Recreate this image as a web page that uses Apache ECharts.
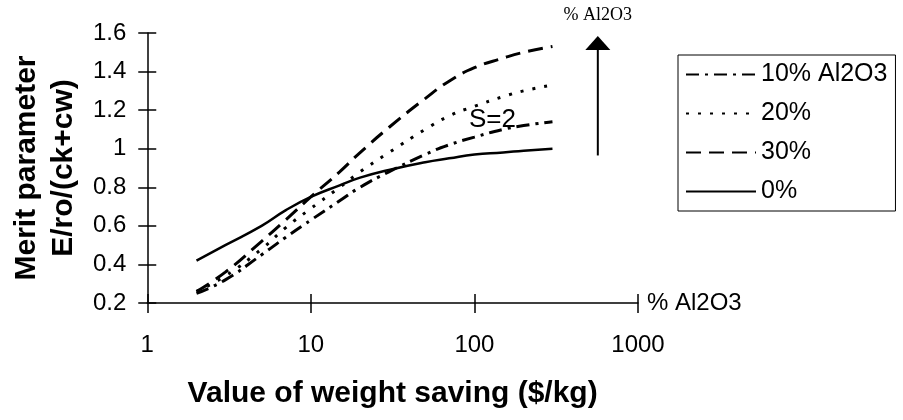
<!DOCTYPE html>
<html><head><meta charset="utf-8">
<script src="https://cdn.jsdelivr.net/npm/echarts@6/dist/echarts.min.js"></script>
<style>html,body{margin:0;padding:0;background:#fff}#c{width:903px;height:420px}</style>
</head><body><div id="c"></div>
<script>
// ---- data ----
const xValues = [2, 3, 5, 7, 10, 15, 20, 30, 50, 70, 100, 150, 200, 300];
const seriesNames = ['10% Al2O3', '20%', '30%', '0%'];
const al10 = [0.25, 0.32, 0.45, 0.54, 0.63, 0.73, 0.80, 0.88, 0.97, 1.02, 1.06, 1.10, 1.12, 1.14];
const al20 = [0.26, 0.34, 0.48, 0.59, 0.69, 0.80, 0.88, 0.98, 1.10, 1.17, 1.22, 1.27, 1.30, 1.33];
const al30 = [0.26, 0.36, 0.52, 0.63, 0.75, 0.88, 0.98, 1.11, 1.26, 1.35, 1.42, 1.47, 1.50, 1.53];
const al0  = [0.42, 0.50, 0.60, 0.68, 0.75, 0.81, 0.85, 0.89, 0.93, 0.95, 0.97, 0.98, 0.99, 1.00];
const xTickLabels = ['1', '10', '100', '1000'];
const yTickLabels = ['0.2', '0.4', '0.6', '0.8', '1', '1.2', '1.4', '1.6'];
const xAxisTitle = 'Value of weight saving ($/kg)';
const yAxisTitle = 'Merit parameter\nE/ro/(ck+cw)';
const xAxisEndName = '% Al2O3';
const arrowLabel = '% Al2O3';
const curveLabel = 'S=2';
const curveLabelAt = [129, 1.15];
const arrowFrom = [568, 0.965];
const arrowTo = [568, 1.585];

const FONT = 'Liberation Sans, Arial, sans-serif';
const chart = echarts.init(document.getElementById('c'), null, {renderer: 'canvas'});

const styles = {
  '10% Al2O3': {type: [13, 6, 3, 6], width: 3},
  '20%': {type: [3, 9], width: 3},
  '30%': {type: [15, 8], width: 3},
  '0%': {type: 'solid', width: 2.5}
};
const valuesByName = {'10% Al2O3': al10, '20%': al20, '30%': al30, '0%': al0};

const series = seriesNames.map(name => ({
  name: name,
  type: 'line',
  xAxisIndex: 0,
  yAxisIndex: 0,
  smooth: true,
  symbol: 'none',
  showSymbol: false,
  animation: false,
  lineStyle: Object.assign({color: '#000'}, styles[name]),
  itemStyle: {color: '#000'},
  data: xValues.map((x, i) => [x, valuesByName[name][i]])
}));

const xBase = {
  type: 'log', logBase: 10, min: 1, max: 1000, gridIndex: 0, position: 'bottom'
};
const yBase = {
  type: 'value', min: 0.2, max: 1.6, interval: 0.2, gridIndex: 0, position: 'left'
};

chart.setOption({
  animation: false,
  backgroundColor: '#fff',
  grid: {left: 139, right: 265, top: 33, bottom: 117, containLabel: false},
  legend: {
    data: seriesNames,
    orient: 'vertical',
    left: 678, top: 55,
    borderColor: '#000', borderWidth: 1, borderRadius: 0,
    padding: [7, 8, 7, 7],
    itemWidth: 70, itemHeight: 14, itemGap: 14,
    lineStyle: {width: 2},
    itemStyle: {color: 'rgba(0,0,0,0)', borderWidth: 0, opacity: 0},
    textStyle: {fontFamily: FONT, fontSize: 25, color: '#000', lineHeight: 25}
  },
  xAxis: [
    Object.assign({}, xBase, {
      name: xAxisEndName, nameLocation: 'end', nameGap: 9,
      nameTextStyle: {fontFamily: FONT, fontSize: 24, color: '#000'},
      axisLine: {onZero: false, lineStyle: {color: '#000', width: 1.5}},
      axisTick: {show: true, inside: false, length: 10, lineStyle: {color: '#000', width: 1.5}},
      minorTick: {show: false},
      splitLine: {show: false},
      axisLabel: {
        margin: 30, fontFamily: FONT, fontSize: 24, color: '#000',
        formatter: v => xTickLabels[Math.round(Math.log10(v))]
      }
    }),
    Object.assign({}, xBase, {
      name: xAxisTitle, nameLocation: 'middle', nameGap: 76,
      nameTextStyle: {fontFamily: FONT, fontSize: 30, fontWeight: 'bold', color: '#000'},
      axisLine: {show: false, onZero: false},
      axisTick: {show: true, inside: true, length: 9, lineStyle: {color: '#000', width: 1.5}},
      splitLine: {show: false},
      axisLabel: {show: false}
    })
  ],
  yAxis: [
    Object.assign({}, yBase, {
      name: yAxisTitle, nameLocation: 'middle', nameRotate: 90, nameGap: 58,
      nameTextStyle: {fontFamily: FONT, fontSize: 30, fontWeight: 'bold', color: '#000', lineHeight: 37},
      axisLine: {show: true, onZero: false, lineStyle: {color: '#000', width: 1.5}},
      axisTick: {show: true, inside: false, length: 9, lineStyle: {color: '#000', width: 1.5}},
      splitLine: {show: false},
      axisLabel: {
        margin: 21, fontFamily: FONT, fontSize: 24, color: '#000',
        formatter: v => yTickLabels[Math.round((v - 0.2) / 0.2)]
      }
    }),
    Object.assign({}, yBase, {
      axisLine: {show: false, onZero: false},
      axisTick: {show: true, inside: true, length: 9, lineStyle: {color: '#000', width: 1.5}},
      splitLine: {show: false},
      axisLabel: {show: false}
    })
  ],
  series: series
});

// annotations positioned through the chart's own scales
const toPx = p => chart.convertToPixel({xAxisIndex: 0, yAxisIndex: 0}, p);
const a0 = toPx(arrowFrom), a1 = toPx(arrowTo), lbl = toPx(curveLabelAt);
const headH = 14, headW = 25;
chart.setOption({
  graphic: [
    {type: 'line', shape: {x1: a0[0], y1: a0[1], x2: a1[0], y2: a1[1] + headH}, style: {stroke: '#000', lineWidth: 2}, silent: true},
    {type: 'polygon', shape: {points: [[a1[0], a1[1]], [a1[0] - headW / 2, a1[1] + headH], [a1[0] + headW / 2, a1[1] + headH]]}, style: {fill: '#000'}, silent: true},
    {type: 'text', x: a1[0], y: a1[1] - 21, style: {text: arrowLabel, font: '18px "Liberation Serif", "Times New Roman", serif', fill: '#000', align: 'center', verticalAlign: 'middle'}, silent: true},
    {type: 'text', x: lbl[0], y: lbl[1], style: {text: curveLabel, font: '26px ' + FONT, fill: '#000', align: 'center', verticalAlign: 'middle'}, silent: true}
  ]
});
</script>
</body></html>
